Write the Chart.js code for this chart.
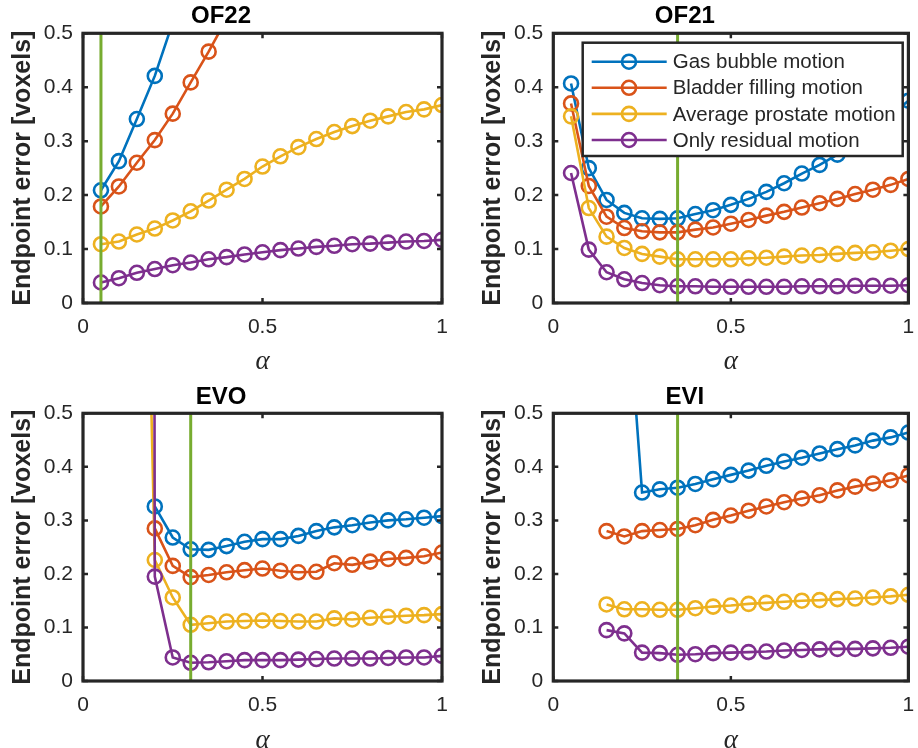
<!DOCTYPE html>
<html><head><meta charset="utf-8">
<script src="https://cdn.jsdelivr.net/npm/chart.js@4/dist/chart.umd.min.js"></script>
<style>
html,body{margin:0;padding:0;background:#fff;width:918px;height:748px;overflow:hidden;}
canvas{position:absolute;}
</style></head><body>
<canvas id="c0" width="459" height="374" style="left:0;top:0"></canvas>
<canvas id="c1" width="459" height="374" style="left:459px;top:0"></canvas>
<canvas id="c2" width="459" height="374" style="left:0;top:374px"></canvas>
<canvas id="c3" width="459" height="374" style="left:459px;top:374px"></canvas>
<script>
// ---------- data ----------
const alphaValues = [0.05,0.1,0.15,0.2,0.25,0.3,0.35,0.4,0.45,0.5,0.55,0.6,0.65,0.7,0.75,0.8,0.85,0.9,0.95,1.0];
const seriesNames = ['Gas bubble motion','Bladder filling motion','Average prostate motion','Only residual motion'];
const panelTitles = ['OF22','OF21','EVO','EVI'];
const optimalAlpha = [0.05, 0.35, 0.30, 0.35];
const xTickValues = [0, 0.5, 1];
const yTickValues = [0, 0.1, 0.2, 0.3, 0.4, 0.5];

const of22Gas      = [0.209,0.263,0.341,0.421,0.52,null,null,null,null,null,null,null,null,null,null,null,null,null,null,null];
const of22Bladder  = [0.179,0.216,0.260,0.302,0.351,0.409,0.466,0.527,null,null,null,null,null,null,null,null,null,null,null,null];
const of22Average  = [0.109,0.114,0.127,0.138,0.153,0.170,0.190,0.210,0.230,0.253,0.272,0.289,0.304,0.317,0.328,0.338,0.346,0.354,0.359,0.367];
const of22Residual = [0.038,0.046,0.056,0.063,0.070,0.075,0.081,0.085,0.090,0.094,0.098,0.101,0.104,0.106,0.109,0.110,0.112,0.114,0.115,0.117];

const of21Gas      = [0.407,0.250,0.191,0.167,0.157,0.156,0.157,0.165,0.172,0.182,0.193,0.206,0.222,0.240,0.256,0.275,0.298,0.322,0.348,0.375];
const of21Bladder  = [0.370,0.217,0.160,0.139,0.133,0.131,0.131,0.136,0.140,0.147,0.154,0.162,0.169,0.177,0.185,0.193,0.202,0.210,0.219,0.230];
const of21Average  = [0.346,0.176,0.123,0.102,0.091,0.086,0.081,0.081,0.081,0.081,0.083,0.084,0.086,0.088,0.089,0.091,0.093,0.094,0.097,0.100];
const of21Residual = [0.241,0.099,0.057,0.044,0.037,0.033,0.031,0.031,0.030,0.030,0.030,0.030,0.030,0.031,0.031,0.031,0.032,0.032,0.032,0.033];

const evoGas      = [null,null,null,0.326,0.268,0.246,0.245,0.252,0.260,0.265,0.265,0.271,0.280,0.287,0.291,0.296,0.300,0.302,0.305,0.308];
const evoBladder  = [null,null,null,0.285,0.215,0.194,0.198,0.203,0.207,0.210,0.206,0.203,0.204,0.220,0.217,0.223,0.228,0.230,0.233,0.240];
const evoAverage  = [null,null,1.7,0.226,0.156,0.105,0.108,0.111,0.112,0.113,0.112,0.111,0.111,0.117,0.115,0.118,0.120,0.122,0.123,0.125];
const evoResidual = [null,null,20,0.195,0.044,0.034,0.035,0.037,0.039,0.039,0.039,0.040,0.041,0.042,0.042,0.042,0.043,0.044,0.044,0.047];

const eviGas      = [null,null,null,0.8,0.352,0.358,0.361,0.368,0.377,0.385,0.393,0.402,0.410,0.417,0.425,0.433,0.440,0.449,0.455,0.464];
const eviBladder  = [null,null,0.280,0.270,0.280,0.282,0.284,0.291,0.301,0.309,0.318,0.326,0.334,0.341,0.347,0.356,0.363,0.369,0.375,0.384];
const eviAverage  = [null,null,0.143,0.134,0.134,0.133,0.133,0.136,0.139,0.141,0.144,0.146,0.148,0.150,0.151,0.153,0.154,0.156,0.158,0.161];
const eviResidual = [null,null,0.095,0.089,0.053,0.052,0.049,0.050,0.052,0.053,0.054,0.055,0.057,0.058,0.059,0.060,0.060,0.061,0.062,0.064];

const panelValues = [
  [of22Gas, of22Bladder, of22Average, of22Residual],
  [of21Gas, of21Bladder, of21Average, of21Residual],
  [evoGas, evoBladder, evoAverage, evoResidual],
  [eviGas, eviBladder, eviAverage, eviResidual]
];

// ---------- styles / layout ----------
const seriesColors = ['#0072BD','#D95319','#EDB120','#7E2F8E'];
const optimalColor = '#77AC30';
const axisColor = '#262626';
const SANS = '"Liberation Sans", Arial, Helvetica, sans-serif';
const SERIF = '"Liberation Serif", "DejaVu Serif", serif';
const CW = 459, CH = 374;
const panelGeo = [
  {l:83,   r:442,   t:33.3, b:303, titleY:16, yTitleX:23, alphaY:361,   legend:false},
  {l:94.3, r:451.7, t:33.3, b:303, titleY:16, yTitleX:34, alphaY:361,   legend:true},
  {l:83,   r:442,   t:39.3, b:307, titleY:23, yTitleX:23, alphaY:365.5, legend:false},
  {l:94.3, r:451.7, t:39.3, b:307, titleY:23, yTitleX:34, alphaY:365.5, legend:false}
];

const framePlugin = {
  id: 'matlabFrame',
  afterDatasetsDraw(chart, args, opts) {
    const {ctx, chartArea: {left, right, top, bottom}, scales: {x, y}} = chart;
    ctx.save();
    ctx.strokeStyle = axisColor;
    ctx.lineWidth = 2.5;
    const tl = 5;
    ctx.beginPath();
    xTickValues.forEach(v => {
      const px = x.getPixelForValue(v);
      ctx.moveTo(px, bottom); ctx.lineTo(px, bottom - tl);
      ctx.moveTo(px, top); ctx.lineTo(px, top + tl);
    });
    yTickValues.forEach(v => {
      const py = y.getPixelForValue(v);
      ctx.moveTo(left, py); ctx.lineTo(left + tl, py);
      ctx.moveTo(right, py); ctx.lineTo(right - tl, py);
    });
    ctx.stroke();
    ctx.lineWidth = 3.2;
    ctx.strokeRect(left, top, right - left, bottom - top);

    if (opts.legend) {
      const bx = left + 29.4, by = top + 9.4, bx2 = right - 5.7, by2 = top + 122.7;
      ctx.fillStyle = '#fff';
      ctx.fillRect(bx, by, bx2 - bx, by2 - by);
      ctx.strokeStyle = axisColor;
      ctx.lineWidth = 2.5;
      ctx.strokeRect(bx, by, bx2 - bx, by2 - by);
      const series = chart.data.datasets.filter(d => !d.isOptimal);
      series.forEach((d, k) => {
        const ry = by + 19 + k * 26.1;
        ctx.strokeStyle = d.borderColor;
        ctx.lineWidth = 2.6;
        ctx.beginPath(); ctx.moveTo(bx + 9, ry); ctx.lineTo(bx + 84, ry); ctx.stroke();
        ctx.beginPath(); ctx.arc(bx + 46.3, ry, 7, 0, Math.PI * 2); ctx.stroke();
        ctx.fillStyle = axisColor;
        ctx.font = '20.5px ' + SANS;
        ctx.textBaseline = 'middle';
        ctx.textAlign = 'left';
        ctx.fillText(d.label, bx + 90, ry + 1);
      });
    }
    ctx.restore();
  }
};

function makeChart(i) {
  const g = panelGeo[i];
  const datasets = [{
    label: 'optimal α',
    isOptimal: true,
    data: [{x: optimalAlpha[i], y: 0}, {x: optimalAlpha[i], y: 0.5}],
    borderColor: optimalColor, borderWidth: 3, pointRadius: 0, order: 0
  }];
  panelValues[i].forEach((vals, k) => {
    datasets.push({
      label: seriesNames[k],
      data: alphaValues.map((a, j) => ({x: a, y: vals[j]})),
      borderColor: seriesColors[k],
      backgroundColor: 'rgba(0,0,0,0)',
      borderWidth: 2.6,
      pointStyle: 'circle',
      pointRadius: 7,
      pointBorderWidth: 2.6,
      pointBorderColor: seriesColors[k],
      pointBackgroundColor: 'rgba(0,0,0,0)',
      tension: 0,
      order: 4 - k
    });
  });
  new Chart(document.getElementById('c' + i), {
    type: 'line',
    data: {datasets},
    plugins: [framePlugin],
    options: {
      responsive: false,
      animation: false,
      events: [],
      layout: {padding: {left: 0, right: CW - g.r, top: 0, bottom: 0}},
      plugins: {
        legend: {display: false},
        tooltip: {enabled: false},
        title: {
          display: true, text: panelTitles[i], color: '#000',
          font: {family: SANS, weight: 'bold', size: 24, lineHeight: 1.2},
          padding: {top: g.titleY - 14.4, bottom: g.t - g.titleY - 14.4}
        },
        matlabFrame: {legend: g.legend}
      },
      scales: {
        x: {
          type: 'linear', min: 0, max: 1,
          afterBuildTicks: s => { s.ticks = xTickValues.map(v => ({value: v})); },
          afterFit: s => { s.height = CH - g.b; s.paddingLeft = 0; s.paddingRight = 0; },
          grid: {display: false, drawTicks: false},
          border: {display: false},
          ticks: {color: axisColor, font: {family: SANS, size: 21}, padding: 12, maxRotation: 0, autoSkip: false,
                  callback: v => String(v)},
          title: {
            display: true, text: 'α', color: axisColor,
            font: {family: SERIF, style: 'italic', size: 27, lineHeight: 0.4},
            padding: {top: 0, bottom: 367.4 - g.alphaY}
          }
        },
        y: {
          type: 'linear', min: 0, max: 0.5,
          afterBuildTicks: s => { s.ticks = yTickValues.map(v => ({value: v})); },
          afterFit: s => { s.width = g.l; },
          grid: {display: false, drawTicks: false},
          border: {display: false},
          ticks: {color: axisColor, font: {family: SANS, size: 21}, padding: 10, callback: v => String(v)},
          title: {
            display: true, text: 'Endpoint error [voxels]', color: axisColor,
            font: {family: SANS, weight: 'bold', size: 25, lineHeight: 1},
            padding: {top: g.yTitleX - 12.5, bottom: 0}
          }
        }
      }
    }
  });
}
[0, 1, 2, 3].forEach(makeChart);
</script>
</body></html>
